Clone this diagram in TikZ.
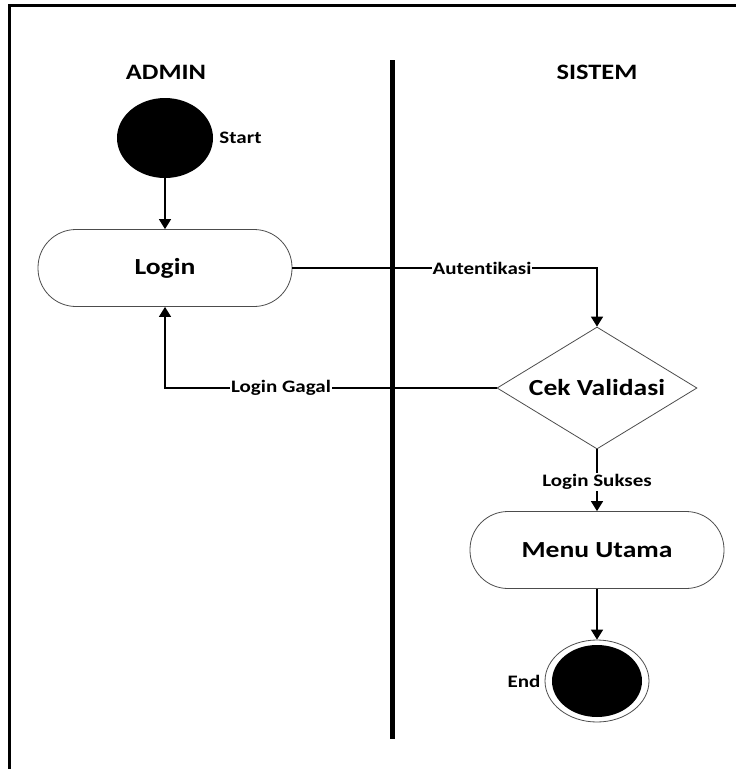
\documentclass[tikz,border=0pt]{standalone}
\usepackage{fontspec}
\setmainfont{Carlito}[FakeStretch=1.2,Ligatures=NoCommon]
\usetikzlibrary{shapes.geometric,arrows.meta}

\begin{document}
\begin{tikzpicture}[x=1pt,y=-1pt,
  lanetitle/.style={font=\bfseries\fontsize{22}{26}\selectfont},
  activity/.style={draw=black!70,line width=0.8pt,rectangle,rounded corners=38pt,
    minimum width=254pt,minimum height=77pt,font=\bfseries\fontsize{23}{26}\selectfont},
  decision/.style={draw=black!70,line width=0.8pt,diamond,aspect=1.64,inner sep=0pt,
    minimum width=200pt,minimum height=122pt,font=\bfseries\fontsize{23}{26}\selectfont},
  small/.style={font=\bfseries\fontsize{17.5}{20}\selectfont,inner sep=1pt},
  flowlabel/.style={small,fill=white},
  flow/.style={line width=1.6pt,-{Triangle[length=10pt,width=12pt]}}]

  \useasboundingbox (0,0) rectangle (736,769);

  % outer frame (top and left edges) and swimlane divider
  \draw[line width=3pt] (9.5,769) -- (9.5,5) -- (736,5);
  \draw[line width=4.5pt] (392.5,60) -- (392.5,739);

  % lane titles
  \node[lanetitle] (admin) at (166,72) {ADMIN};
  \node[lanetitle] (sistem) at (597,72) {SISTEM};

  % start node
  \node[ellipse,fill=black,minimum width=96pt,minimum height=80pt,inner sep=0pt] (start) at (165,138) {};
  \node[small,anchor=west] (startlbl) at ([xshift=5pt]start.east) {Start};

  % activities
  \node[activity] (login) at (165,268) {Login};
  \node[decision] (cek) at (597,388) {Cek Validasi};
  \node[activity] (menu) at (597,550) {Menu Utama};

  % end node
  \node[ellipse,draw=black!70,line width=0.8pt,minimum width=104pt,minimum height=82pt,inner sep=0pt] (end) at (597,681) {};
  \node[ellipse,fill=black,minimum width=90pt,minimum height=72pt,inner sep=0pt] (endin) at (end.center) {};
  \node[small,anchor=east] (endlbl) at ([xshift=-3pt]end.west) {End};

  % connectors
  \draw[flow] (start) -- (login);
  \draw[flow] (login.east) -| (cek.north);
  \node[flowlabel] (auth) at (482,268) {Autentikasi};
  \draw[flow] (cek.west) -| (login.south);
  \node[flowlabel] (gagal) at (281,388) {Login Gagal};
  \draw[flow] (cek.south) -- (menu.north);
  \node[flowlabel] (sukses) at (597,482) {Login Sukses};
  \draw[flow] (menu.south) -- (end.north);
\end{tikzpicture}
\end{document}
